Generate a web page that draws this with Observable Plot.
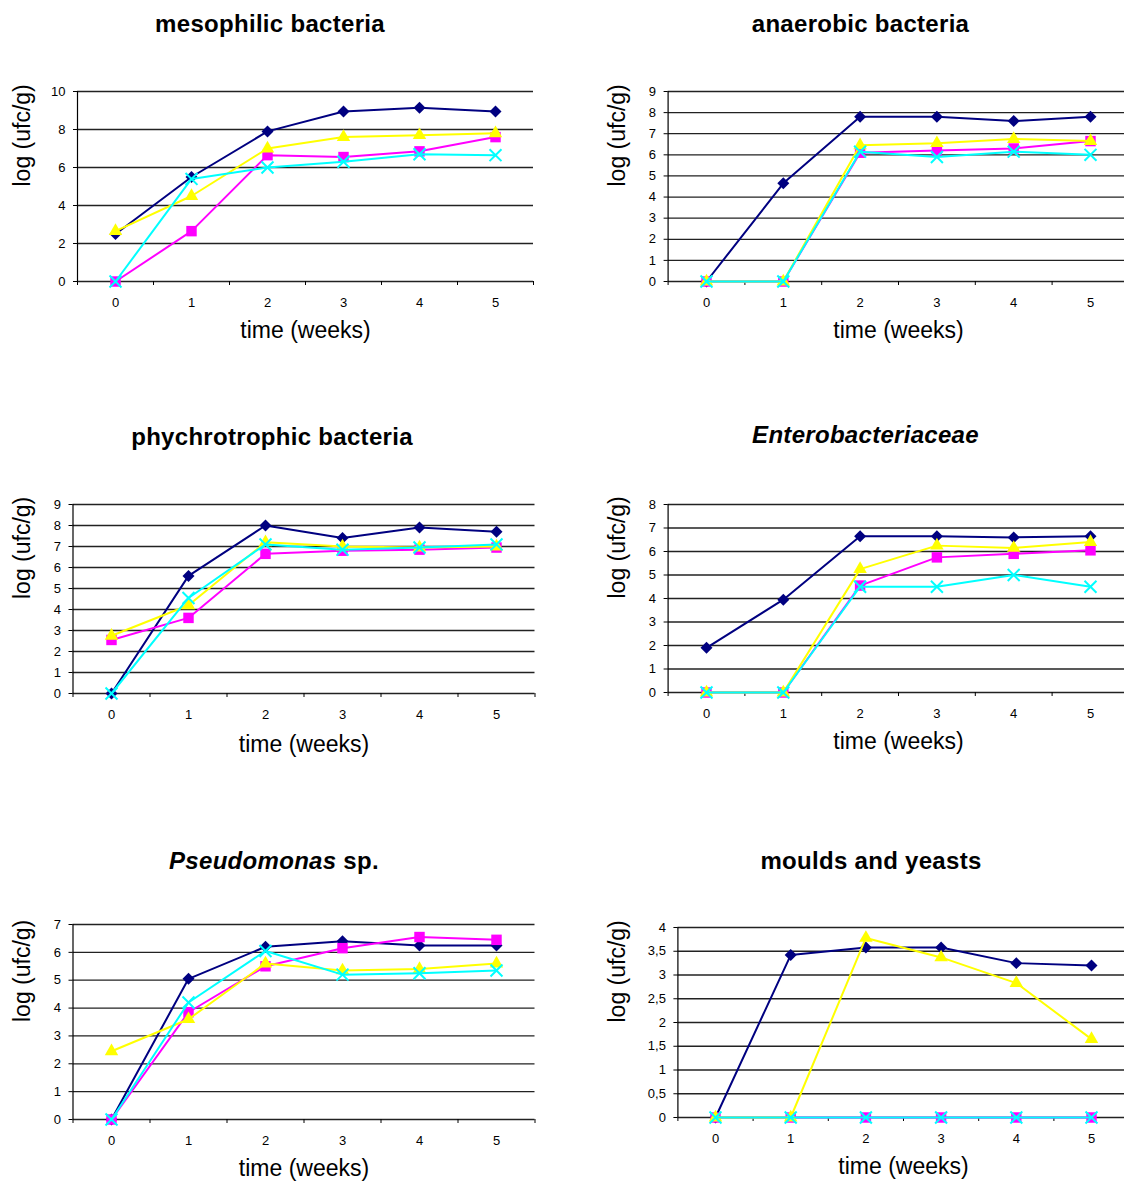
<!DOCTYPE html>
<html><head><meta charset="utf-8">
<script src="https://cdn.jsdelivr.net/npm/d3@7"></script>
<script src="https://cdn.jsdelivr.net/npm/@observablehq/plot@0.6"></script>
<style>
body{margin:0;background:#fff;}
#root{position:relative;width:1124px;height:1181px;overflow:hidden;font-family:"Liberation Sans",Arial,sans-serif;background:#fff;}
#root svg{position:absolute;overflow:visible;}
.ttl{position:absolute;transform:translate(-50%,-50%);white-space:nowrap;font-weight:bold;font-size:24px;letter-spacing:0.3px;color:#000;}
</style></head><body><div id="root"></div>
<script>
// ---- data ----
const weeks = [0, 1, 2, 3, 4, 5];
const seriesNames = ["series 1", "series 2", "series 3", "series 4"];

const mesophilicValues = [
  [2.5, 5.5, 7.9, 8.95, 9.15, 8.95],
  [0, 2.65, 6.65, 6.55, 6.85, 7.6],
  [2.65, 4.5, 7.0, 7.6, 7.7, 7.8],
  [0, 5.4, 6.0, 6.3, 6.7, 6.65]
];
const anaerobicValues = [
  [0, 4.65, 7.8, 7.8, 7.6, 7.8],
  [0, 0, 6.1, 6.2, 6.3, 6.65],
  [0, 0, 6.45, 6.55, 6.75, 6.65],
  [0, 0, 6.15, 5.9, 6.15, 6.0]
];
const psychrotrophicValues = [
  [0, 5.6, 8.0, 7.4, 7.9, 7.7],
  [2.55, 3.6, 6.65, 6.8, 6.85, 6.95],
  [2.75, 4.2, 7.2, 7.0, 6.95, 7.0],
  [0, 4.55, 7.1, 6.85, 6.95, 7.1]
];
const enteroValues = [
  [1.9, 3.95, 6.65, 6.65, 6.6, 6.65],
  [0, 0, 4.55, 5.75, 5.9, 6.05],
  [0, 0, 5.25, 6.25, 6.15, 6.4],
  [0, 0, 4.5, 4.5, 5.0, 4.5]
];
const pseudomonasValues = [
  [0, 5.05, 6.2, 6.4, 6.25, 6.25],
  [0, 3.85, 5.5, 6.15, 6.55, 6.45],
  [2.45, 3.6, 5.6, 5.35, 5.4, 5.6],
  [0, 4.2, 6.05, 5.2, 5.25, 5.35]
];
const mouldsValues = [
  [0, 3.42, 3.58, 3.58, 3.25, 3.2],
  [0, 0, 0, 0, 0, 0],
  [0, 0, 3.78, 3.37, 2.83, 1.65],
  [0, 0, 0, 0, 0, 0]
];

const yTicks10 = [0, 2, 4, 6, 8, 10];
const yTicks9 = [0, 1, 2, 3, 4, 5, 6, 7, 8, 9];
const yTicks8 = [0, 1, 2, 3, 4, 5, 6, 7, 8];
const yTicks7 = [0, 1, 2, 3, 4, 5, 6, 7];
const yTicks4 = [0, 0.5, 1, 1.5, 2, 2.5, 3, 3.5, 4];

const yLabel = "log (ufc/g)";
const xLabel = "time (weeks)";

// ---- styles ----
const seriesColors = ["#000080", "#ff00ff", "#ffff00", "#00ffff"];
const seriesSymbols = ["diamond2", "square", "triangle", "times"];
const seriesR = [5.4, 5.9, 5.0, 5.5];

// ---- layout: frame edges in page pixels ----
const panels = [
  {title: "mesophilic bacteria", values: mesophilicValues, ticks: yTicks10, col: 0, fL: 77, fR: 533, fT: 91, fB: 281, tx: 270, ty: 24, yl: 22, xl: 56},
  {title: "anaerobic bacteria", values: anaerobicValues, ticks: yTicks9, col: 1, fL: 667.6, fR: 1128.4, fT: 91, fB: 281, tx: 860.5, ty: 24, yl: 617, xl: 56},
  {title: "phychrotrophic bacteria", values: psychrotrophicValues, ticks: yTicks9, col: 0, fL: 72.5, fR: 534.5, fT: 504, fB: 693, tx: 272, ty: 437, yl: 22, xl: 58},
  {title: "<i>Enterobacteriaceae</i>", values: enteroValues, ticks: yTicks8, col: 1, fL: 667.6, fR: 1128.4, fT: 504, fB: 692, tx: 865.5, ty: 435, yl: 617, xl: 56},
  {title: "<i>Pseudomonas</i> sp.", values: pseudomonasValues, ticks: yTicks7, col: 0, fL: 72.5, fR: 534.5, fT: 924, fB: 1119, tx: 274, ty: 861, yl: 22, xl: 56},
  {title: "moulds and yeasts", values: mouldsValues, ticks: yTicks4, col: 1, fL: 677.4, fR: 1128.6, fT: 927, fB: 1117, tx: 871, ty: 861, yl: 617, xl: 56}
];

const root = document.getElementById("root");
const boundaries = [-0.5, 0.5, 1.5, 2.5, 3.5, 4.5, 5.5];
const fmt = d => String(d).replace(".", ",");

panels.forEach(p => {
  const svgLeft = p.col === 0 ? 0 : 562;
  const width = p.col === 0 ? 562 : 575;
  const svgTop = p.fT - 40;
  const height = (p.fB - p.fT) + 40 + 75;
  const rowsBySeries = p.values.map((vals, s) =>
    vals.map((v, i) => ({week: weeks[i], value: v, series: seriesNames[s]})));

  const marks = [
    Plot.gridY(p.ticks, {stroke: "#222", strokeOpacity: 1, strokeWidth: 1.3}),
    Plot.ruleX([-0.5], {stroke: "#000", strokeWidth: 1.2}),
    Plot.axisY({ticks: p.ticks, tickSize: 4, tickPadding: 8, fontSize: 13, label: null, tickFormat: fmt}),
    Plot.axisX({ticks: boundaries, tickSize: 4, tickFormat: () => "", label: null}),
    Plot.axisX({ticks: weeks, tickSize: 0, tickPadding: 16.5, fontSize: 13, label: null, tickFormat: d => String(d)}),
    Plot.text([yLabel], {frameAnchor: "left", dx: p.yl - p.fL, rotate: -90, fontSize: 23, text: d => d}),
    Plot.text([xLabel], {frameAnchor: "bottom", dy: p.xl, fontSize: 23, text: d => d})
  ];
  rowsBySeries.forEach((rows, s) => {
    marks.push(Plot.line(rows, {x: "week", y: "value", stroke: seriesColors[s], strokeWidth: 2}));
    const sym = seriesSymbols[s];
    if (sym === "times") {
      marks.push(Plot.dot(rows, {x: "week", y: "value", symbol: sym, r: seriesR[s], stroke: seriesColors[s], strokeWidth: 2, fill: "none"}));
    } else {
      marks.push(Plot.dot(rows, {x: "week", y: "value", symbol: sym, r: seriesR[s], fill: seriesColors[s], stroke: "none"}));
    }
  });

  const chart = Plot.plot({
    width, height,
    marginLeft: p.fL - svgLeft,
    marginRight: svgLeft + width - p.fR,
    marginTop: p.fT - svgTop,
    marginBottom: svgTop + height - p.fB,
    x: {type: "linear", domain: [-0.5, 5.5]},
    y: {type: "linear", domain: [0, p.ticks[p.ticks.length - 1]]},
    style: {fontFamily: "'Liberation Sans', Arial, sans-serif", fontSize: "13px", color: "#000", background: "transparent", overflow: "visible"},
    marks
  });
  chart.style.left = svgLeft + "px";
  chart.style.top = svgTop + "px";
  root.appendChild(chart);

  const t = document.createElement("div");
  t.className = "ttl";
  t.innerHTML = p.title;
  t.style.left = p.tx + "px";
  t.style.top = p.ty + "px";
  root.appendChild(t);
});
</script>
</body></html>
